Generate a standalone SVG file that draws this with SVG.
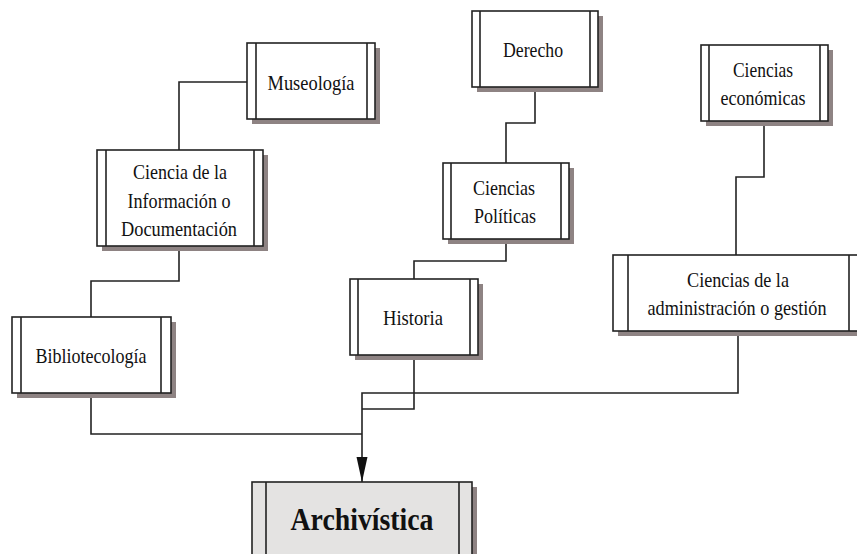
<svg xmlns="http://www.w3.org/2000/svg" width="857" height="554" viewBox="0 0 857 554">
  <style>
    .shadow { fill: #8e8383; }
    .box { fill: #ffffff; stroke: #222222; stroke-width: 1.6; }
    .main { fill: #e4e3e2; stroke: #222222; stroke-width: 1.6; }
    .bar { stroke: #222222; stroke-width: 1.6; fill: none; }
    .link { fill: none; stroke: #222222; stroke-width: 1.6; }
    text { font-family: "Liberation Serif", "Times New Roman", serif; font-size: 21px; fill: #111111; text-anchor: middle; }
    .title { font-size: 31px; font-weight: bold; }
  </style>
  <defs>
    <marker id="arrow" markerUnits="userSpaceOnUse" markerWidth="26" markerHeight="12" refX="25" refY="5.5" orient="auto">
      <path d="M0,0 L25,5.5 L0,11 z" fill="#111111"/>
    </marker>
  </defs>

  <rect width="857" height="554" fill="#ffffff"/>

  <!-- connectors -->
  <g id="connectors">
    <path class="link" d="M247,82 H179 V150"/>
    <path class="link" d="M179,246 V281 H91 V317"/>
    <path class="link" d="M91,393 V434 H362"/>
    <path class="link" d="M535,87 V123 H506 V163"/>
    <path class="link" d="M506,239 V261 H414 V279"/>
    <path class="link" d="M414,355 V409 H362"/>
    <path class="link" d="M764,121 V177 H736 V255"/>
    <path class="link" d="M738,331 V393 H362 V482" marker-end="url(#arrow)"/>
  </g>

  <!-- Museología -->
  <g id="museologia">
    <rect class="shadow" x="252" y="48" width="128" height="76"/>
    <rect class="box" x="247" y="43" width="128" height="76"/>
    <path class="bar" d="M256,43 V119 M367,43 V119"/>
    <text x="311" y="90" textLength="87" lengthAdjust="spacingAndGlyphs">Museología</text>
  </g>

  <!-- Ciencia de la Información o Documentación -->
  <g id="ciencia-informacion">
    <rect class="shadow" x="102" y="155" width="166" height="96"/>
    <rect class="box" x="97" y="150" width="166" height="96"/>
    <path class="bar" d="M106,150 V246 M254,150 V246"/>
    <text x="180" y="179" textLength="94" lengthAdjust="spacingAndGlyphs">Ciencia de la</text>
    <text x="179" y="208" textLength="103" lengthAdjust="spacingAndGlyphs">Información o</text>
    <text x="179" y="236" textLength="116" lengthAdjust="spacingAndGlyphs">Documentación</text>
  </g>

  <!-- Bibliotecología -->
  <g id="bibliotecologia">
    <rect class="shadow" x="17" y="322" width="159" height="76"/>
    <rect class="box" x="12" y="317" width="159" height="76"/>
    <path class="bar" d="M21,317 V393 M161,317 V393"/>
    <text x="91" y="363" textLength="111" lengthAdjust="spacingAndGlyphs">Bibliotecología</text>
  </g>

  <!-- Derecho -->
  <g id="derecho">
    <rect class="shadow" x="477" y="16" width="126" height="76"/>
    <rect class="box" x="472" y="11" width="126" height="76"/>
    <path class="bar" d="M480,11 V87 M590,11 V87"/>
    <text x="533" y="57" textLength="60" lengthAdjust="spacingAndGlyphs">Derecho</text>
  </g>

  <!-- Ciencias Políticas -->
  <g id="ciencias-politicas">
    <rect class="shadow" x="448" y="168" width="126" height="76"/>
    <rect class="box" x="443" y="163" width="126" height="76"/>
    <path class="bar" d="M451,163 V239 M561,163 V239"/>
    <text x="504" y="195" textLength="62" lengthAdjust="spacingAndGlyphs">Ciencias</text>
    <text x="505" y="223" textLength="62" lengthAdjust="spacingAndGlyphs">Políticas</text>
  </g>

  <!-- Historia -->
  <g id="historia">
    <rect class="shadow" x="355" y="284" width="128" height="76"/>
    <rect class="box" x="350" y="279" width="128" height="76"/>
    <path class="bar" d="M358,279 V355 M470,279 V355"/>
    <text x="413" y="325" textLength="60" lengthAdjust="spacingAndGlyphs">Historia</text>
  </g>

  <!-- Ciencias económicas -->
  <g id="ciencias-economicas">
    <rect class="shadow" x="706" y="50" width="127" height="76"/>
    <rect class="box" x="701" y="45" width="127" height="76"/>
    <path class="bar" d="M709,45 V121 M820,45 V121"/>
    <text x="763" y="77" textLength="60" lengthAdjust="spacingAndGlyphs">Ciencias</text>
    <text x="763" y="105" textLength="85" lengthAdjust="spacingAndGlyphs">económicas</text>
  </g>

  <!-- Ciencias de la administración o gestión -->
  <g id="ciencias-administracion">
    <rect class="shadow" x="618" y="260" width="251" height="76"/>
    <rect class="box" x="613" y="255" width="251" height="76"/>
    <path class="bar" d="M628,255 V331 M849,255 V331"/>
    <text x="738" y="287" textLength="102" lengthAdjust="spacingAndGlyphs">Ciencias de la</text>
    <text x="737" y="315" textLength="179" lengthAdjust="spacingAndGlyphs">administración o gestión</text>
  </g>

  <!-- Archivística -->
  <g id="archivistica">
    <rect class="shadow" x="257" y="487" width="220" height="90"/>
    <rect class="main" x="252" y="482" width="220" height="90"/>
    <path class="bar" d="M266,482 V572 M459,482 V572"/>
    <text class="title" x="362" y="530" textLength="143" lengthAdjust="spacingAndGlyphs">Archivística</text>
  </g>
</svg>
